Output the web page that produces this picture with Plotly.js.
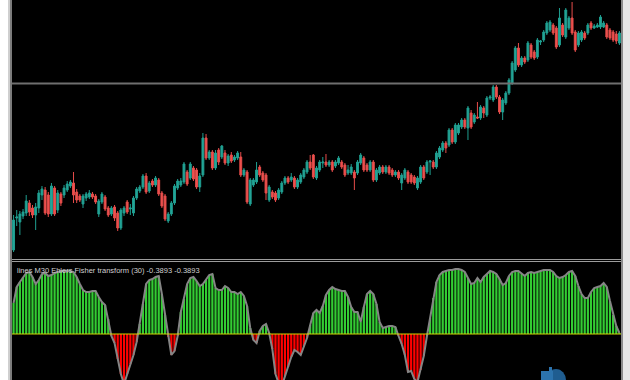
<!DOCTYPE html>
<html>
<head>
<meta charset="utf-8">
<script src="https://cdn.plot.ly/plotly-3.0.1.min.js"></script>
<style>html,body{margin:0;padding:0;background:#fff;}#chart{width:630px;height:380px;}</style>
</head>
<body>
<div id="chart"></div>
<script>
// ---- price candles (bar index 0..192) ----
const openP = [10,42,38,44,47,57,52,45,52,65, 70,65,46,72,50,66,65,70,74,77, 68,64,56,62,63,66,64,46,58,63,
 52,46,53,47,32,47,58,51,47,62, 69,73,84,69,79,75,80,67,64,39, 46,57,72,75,78,88,82,92,90,73,
 85,122,102,108,92,110,103,107,97,105, 100,102,103,85,88,56,75,78,93,87, 85,60,68,67,62,68,77,82,80,82,
 73,78,83,88,98,105,82,90,97,98, 95,98,94,97,98,95,87,87,88,87, 97,102,95,90,98,80,87,93,88,93,
 90,85,88,77,82,88,85,83,72,78, 93,88,98,98,93,103,110,117,115,130, 118,127,133,140,132,147,138,143,142,152,
 145,162,160,173,163,148,157,167,177,190, 212,195,202,200,215,208,203,218,220,227, 230,235,232,215,235,223,232,242,228,215,
 220,227,227,237,232,233,233,233,235,230, 228,226,217];
const highP = [45,50,49,51,65,60,55,57,70,74, 73,68,77,74,70,68,75,79,80,88, 71,66,66,68,70,68,66,61,68,65,
 54,54,55,49,52,54,60,56,64,73, 75,86,87,79,81,84,82,69,66,48, 59,76,81,82,98,90,98,94,92,87,
 127,126,110,110,110,112,115,110,106,108, 105,109,108,92,90,82,82,98,95,89, 87,75,70,69,72,79,84,84,87,84,
 82,87,92,100,105,106,94,100,103,106, 100,100,100,104,100,97,95,96,90,100, 107,104,97,100,100,92,95,95,95,95,
 92,90,90,87,92,90,87,85,84,95, 95,100,100,100,109,114,119,119,132,132, 137,137,142,142,154,150,147,158,155,154,
 164,165,175,175,165,162,169,182,199,214, 217,204,204,219,217,210,222,220,230,239, 240,237,234,252,237,252,244,258,230,229,
 230,229,237,239,236,237,245,239,237,232, 230,229,229];
const lowP = [8,34,25,41,44,44,42,30,47,60, 45,43,44,44,47,54,62,68,72,57, 57,58,52,59,61,61,56,43,56,49,
 43,44,39,29,30,44,46,45,44,60, 67,71,66,67,73,73,64,52,39,37, 44,55,70,73,76,74,80,79,71,68,
 83,100,100,90,90,95,101,95,94,97, 98,100,83,83,56,54,73,76,83,78, 60,58,61,58,60,66,75,76,78,71,
 71,76,81,86,90,81,80,88,92,93, 93,88,92,95,91,83,85,85,70,85, 95,88,88,88,78,78,85,86,86,85,
 83,83,80,70,80,76,76,75,70,76, 80,86,85,91,91,101,108,107,113,116, 116,125,131,131,120,131,136,141,140,142,
 143,160,158,161,146,140,155,165,175,188, 193,193,196,198,201,200,201,215,218,225, 228,225,211,213,223,221,230,225,208,213,
 218,220,225,230,231,232,231,232,221,220, 218,216,215];
const closeP = [40,43,46,48,59,48,45,53,67,71, 47,46,74,46,67,57,72,76,78,65, 60,60,64,66,67,63,58,59,66,51,
 45,52,42,32,50,52,48,52,62,71, 73,84,68,77,75,82,66,54,41,46, 57,74,79,79,96,76,96,81,73,84,
 122,102,108,92,107,98,114,97,104,99, 103,107,85,90,58,80,80,90,85,80, 67,73,63,60,70,77,82,78,83,73,
 80,85,90,98,92,83,92,98,98,95, 98,90,98,102,93,85,90,93,82,98, 105,90,90,98,80,90,93,88,93,87,
 85,88,82,85,90,78,78,77,82,93, 82,98,99,93,107,112,117,112,130,118, 135,135,140,133,152,133,145,142,153,147,
 162,163,173,163,148,160,167,180,197,212, 195,202,198,217,203,202,220,219,228,237, 238,227,213,242,225,250,242,227,210,227,
 228,222,235,232,234,235,243,237,223,222, 220,219,227];
// ---- Ehlers Fisher transform histogram (scaled) ----
const fisher = [31,47,52,57,61,62,57,50,54,60, 61,58,59,61,62,63,63,63,63,62, 57,50,44,42,42,43,43,37,32,29,
 15,-2,-9,-25,-40,-50,-40,-30,-21,-8, 10,30,50,54,55,57,58,40,19,-3, -21,-17,-2,22,35,50,56,57,53,48,
 50,54,59,60,46,44,44,48,46,42, 42,40,42,38,28,6,-6,-9,3,8, 10,1,-15,-40,-49,-52,-42,-33,-23,-16,
 -18,-21,-12,-4,9,21,24,21,28,39, 44,47,45,44,43,43,37,27,22,22, 12,27,40,43,40,30,12,6,7,8,
 8,7,-2,-10,-21,-38,-37,-45,-48,-36, -22,-2,16,36,52,59,62,63,64,64, 65,65,64,62,56,50,51,56,52,57,
 60,63,62,60,55,49,51,58,62,63, 63,60,58,61,62,61,62,63,64,64, 64,62,58,56,57,59,62,63,58,48,
 40,36,36,42,46,47,48,51,47,33, 19,8,1];
const hLineLevel = 176.5;
const labelText = 'lines M30 Ehlers Fisher transform (30) -0.3893 -0.3893';

const bars = openP.map((_, i) => i);
const W = 630, H = 380;
const px = v => v / W, py = v => (H - v) / H;

const traces = [
  {type:'candlestick', x: bars, open: openP, high: highP, low: lowP, close: closeP,
   xaxis:'x', yaxis:'y', whiskerwidth:0,
   increasing:{line:{color:'#1f9f90', width:1}, fillcolor:'#26a69a'},
   decreasing:{line:{color:'#e64c4a', width:1}, fillcolor:'#ef5350'}},
  {type:'bar', x: bars, y: fisher, xaxis:'x', yaxis:'y2',
   marker:{color: fisher.map(v => v >= 0 ? '#33cc33' : '#ff0000'), line:{width:0}}},
  {type:'scatter', mode:'lines', x: bars, y: fisher, xaxis:'x', yaxis:'y2',
   line:{color:'#858585', width:2}}
];

const shapes = [
  {type:'rect', xref:'paper', yref:'paper', x0:px(12), x1:px(621), y0:py(262), y1:py(258), fillcolor:'#000', line:{width:0}, layer:'below'},
  {type:'line', xref:'paper', yref:'paper', x0:px(9), x1:px(621), y0:py(259.5), y1:py(259.5), line:{color:'#9c9c9c', width:1}},
  {type:'line', xref:'paper', yref:'paper', x0:px(9), x1:px(621), y0:py(261.5), y1:py(261.5), line:{color:'#9c9c9c', width:1}},
  {type:'line', xref:'paper', yref:'y', x0:px(12), x1:px(621), y0:hLineLevel, y1:hLineLevel, line:{color:'#6f6f6f', width:2}},
  {type:'line', xref:'paper', yref:'y2', x0:px(12), x1:px(621), y0:0, y1:0, line:{color:'#d2d200', width:1}},
  {type:'rect', xref:'paper', yref:'paper', x0:px(8), x1:px(10), y0:0, y1:1, fillcolor:'#cfcfcf', line:{width:0}},
  {type:'rect', xref:'paper', yref:'paper', x0:px(10), x1:px(12), y0:0, y1:1, fillcolor:'#7c7c7c', line:{width:0}},
  {type:'rect', xref:'paper', yref:'paper', x0:px(621), x1:px(623), y0:0, y1:1, fillcolor:'#8a8a8a', line:{width:0}},
  {type:'rect', xref:'paper', yref:'paper', x0:px(623), x1:px(630), y0:0, y1:1, fillcolor:'#e6e6e6', line:{width:0}},
  {type:'circle', xref:'paper', yref:'paper', x0:px(546), x1:px(566), y0:py(392), y1:py(369), fillcolor:'#1f5d90', line:{width:0}},
  {type:'rect', xref:'paper', yref:'paper', x0:px(541), x1:px(553), y0:py(380), y1:py(371), fillcolor:'#2c73ad', line:{width:0}},
  {type:'rect', xref:'paper', yref:'paper', x0:px(549), x1:px(552), y0:py(371), y1:py(367), fillcolor:'#2c73ad', line:{width:0}}
];

const layout = {
  width: W, height: H, margin:{l:0, r:0, t:0, b:0},
  paper_bgcolor:'#ffffff', plot_bgcolor:'#000000', showlegend:false,
  bargap:0.3, boxgap:0.15,
  xaxis:{domain:[px(12), px(621)], range:[-0.5, 192.5], visible:false, rangeslider:{visible:false}, fixedrange:true},
  yaxis:{domain:[(H-258)/H, 1], range:[2, 260], visible:false, fixedrange:true},
  yaxis2:{domain:[0, (H-262)/H], range:[-46, 72], visible:false, fixedrange:true},
  shapes: shapes,
  annotations:[{xref:'paper', yref:'paper', x:px(15), y:py(270), xanchor:'left', yanchor:'middle',
    text: labelText, showarrow:false, font:{family:'Liberation Sans, Arial, sans-serif', size:7.5, color:'#d0d0d0'}}]
};

Plotly.newPlot('chart', traces, layout, {staticPlot:true, displayModeBar:false});
</script>
</body>
</html>
